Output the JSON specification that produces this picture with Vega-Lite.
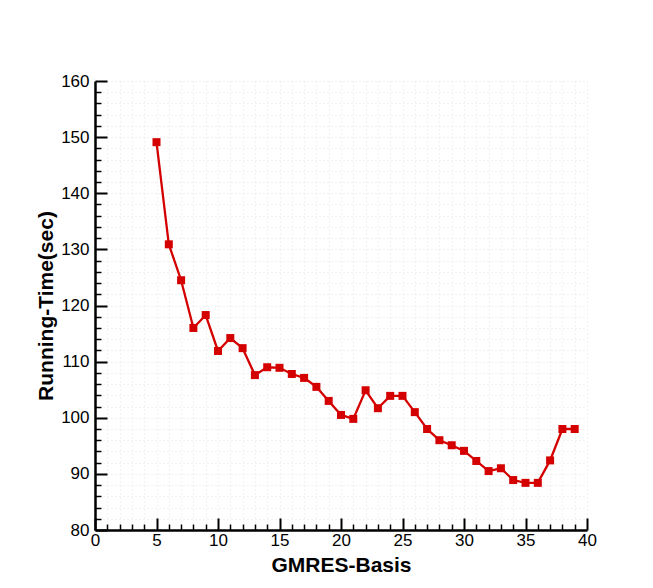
{
  "$schema": "https://vega.github.io/schema/vega-lite/v6.json",
  "width": 492,
  "height": 449,
  "autosize": {"type": "none"},
  "padding": {"left": 95, "top": 81, "right": 66, "bottom": 58},
  "background": "white",
  "config": {
    "view": {"stroke": null},
    "axis": {
      "labelFont": "Liberation Sans",
      "titleFont": "Liberation Sans",
      "labelFontSize": 17,
      "titleFontSize": 21,
      "titleFontWeight": "bold",
      "labelColor": "black",
      "titleColor": "black",
      "domainColor": "black",
      "domainWidth": 2.5,
      "tickColor": "black",
      "gridColor": "#e4e4e4",
      "gridDash": [1, 3],
      "gridWidth": 1
    }
  },
  "data": {
    "values": [
      {"basis": 5, "time": 149.1},
      {"basis": 6, "time": 130.9},
      {"basis": 7, "time": 124.5},
      {"basis": 8, "time": 116.0},
      {"basis": 9, "time": 118.3},
      {"basis": 10, "time": 111.9},
      {"basis": 11, "time": 114.2},
      {"basis": 12, "time": 112.4},
      {"basis": 13, "time": 107.6},
      {"basis": 14, "time": 109.0},
      {"basis": 15, "time": 108.9},
      {"basis": 16, "time": 107.8},
      {"basis": 17, "time": 107.1},
      {"basis": 18, "time": 105.5},
      {"basis": 19, "time": 103.0},
      {"basis": 20, "time": 100.5},
      {"basis": 21, "time": 99.8},
      {"basis": 22, "time": 104.9},
      {"basis": 23, "time": 101.7},
      {"basis": 24, "time": 103.9},
      {"basis": 25, "time": 103.9},
      {"basis": 26, "time": 101.0},
      {"basis": 27, "time": 98.0},
      {"basis": 28, "time": 96.0},
      {"basis": 29, "time": 95.1},
      {"basis": 30, "time": 94.1},
      {"basis": 31, "time": 92.3},
      {"basis": 32, "time": 90.5},
      {"basis": 33, "time": 91.0},
      {"basis": 34, "time": 88.9},
      {"basis": 35, "time": 88.4},
      {"basis": 36, "time": 88.4},
      {"basis": 37, "time": 92.4},
      {"basis": 38, "time": 98.0},
      {"basis": 39, "time": 98.0}
    ]
  },
  "mark": {
    "type": "line",
    "color": "#d40000",
    "strokeWidth": 2.3,
    "point": {"shape": "square", "size": 64, "filled": true, "color": "#d40000", "opacity": 1}
  },
  "encoding": {
    "x": {
      "field": "basis",
      "type": "quantitative",
      "scale": {"domain": [0, 40], "nice": false, "zero": false},
      "axis": {
        "title": "GMRES-Basis",
        "titlePadding": 0,
        "values": [0,1,2,3,4,5,6,7,8,9,10,11,12,13,14,15,16,17,18,19,20,21,22,23,24,25,26,27,28,29,30,31,32,33,34,35,36,37,38,39,40],
        "labelExpr": "datum.value % 5 === 0 ? datum.label : ''",
        "labelOverlap": false,
        "labelPadding": 14,
        "labelFlush": false,
        "tickSize": {"condition": {"test": "datum.value % 5 === 0", "value": -12}, "value": -6},
        "tickWidth": {"condition": {"test": "datum.value % 5 === 0", "value": 2}, "value": 1.5},
        "grid": true
      }
    },
    "y": {
      "field": "time",
      "type": "quantitative",
      "scale": {"domain": [80, 160], "nice": false, "zero": false},
      "axis": {
        "title": "Running-Time(sec)",
        "titlePadding": 4,
        "values": [80,82,84,86,88,90,92,94,96,98,100,102,104,106,108,110,112,114,116,118,120,122,124,126,128,130,132,134,136,138,140,142,144,146,148,150,152,154,156,158,160],
        "labelExpr": "datum.value % 10 === 0 ? datum.label : ''",
        "labelOverlap": false,
        "labelPadding": 18,
        "labelFlush": false,
        "tickSize": {"condition": {"test": "datum.value % 10 === 0", "value": -12}, "value": -6},
        "tickWidth": {"condition": {"test": "datum.value % 10 === 0", "value": 2}, "value": 1.5},
        "grid": true
      }
    }
  }
}
